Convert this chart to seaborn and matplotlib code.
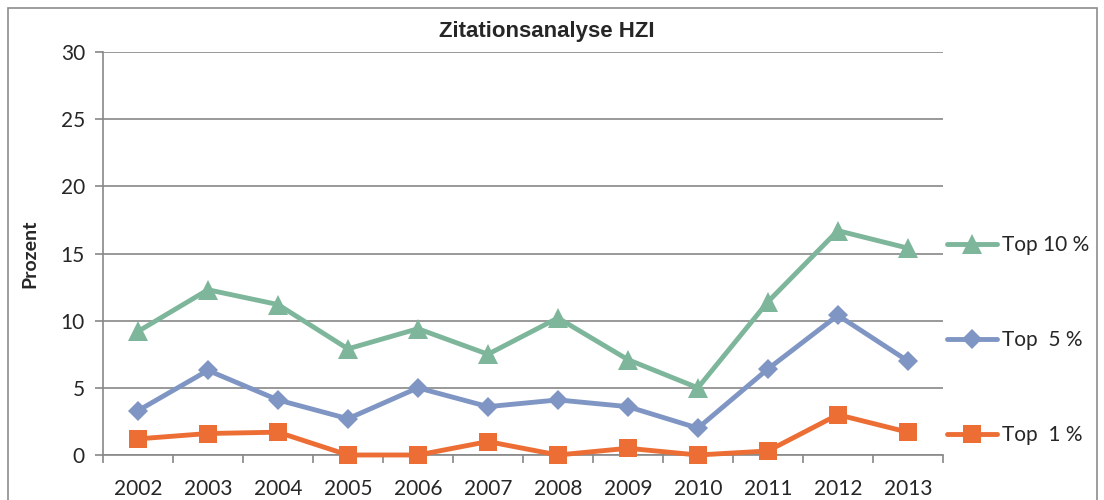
import numpy as np
import pandas as pd
import matplotlib
matplotlib.use("Agg")
import matplotlib.pyplot as plt
import seaborn as sns
from matplotlib.patches import Rectangle
from matplotlib.ticker import MultipleLocator, FixedLocator

# Data
years = ["2002", "2003", "2004", "2005", "2006", "2007",
         "2008", "2009", "2010", "2011", "2012", "2013"]
top10 = [9.2, 12.3, 11.2, 7.9, 9.4, 7.5, 10.2, 7.1, 5.0, 11.4, 16.7, 15.4]
top5 = [3.3, 6.3, 4.1, 2.7, 5.0, 3.6, 4.1, 3.6, 2.0, 6.4, 10.4, 7.0]
top1 = [1.2, 1.6, 1.7, 0.0, 0.0, 1.0, 0.0, 0.5, 0.0, 0.3, 3.0, 1.7]
series_names = ["Top 10 %", "Top  5 %", "Top  1 %"]

colors = {"Top 10 %": "#7db69b", "Top  5 %": "#7f95c3", "Top  1 %": "#ec6e35"}
markers = {"Top 10 %": "^", "Top  5 %": "D", "Top  1 %": "s"}
marker_sizes = {"Top 10 %": 15, "Top  5 %": 10, "Top  1 %": 13}

df = pd.DataFrame({
    "Jahr": years * 3,
    "x": list(range(len(years))) * 3,
    "Prozent": top10 + top5 + top1,
    "Serie": [series_names[0]] * 12 + [series_names[1]] * 12 + [series_names[2]] * 12,
})

sns.set_style("white")
plt.rcParams["font.family"] = ["Lato", "DejaVu Sans"]

fig = plt.figure(figsize=(11.04, 5.0), dpi=100)
ax = fig.add_axes([0.0933, 0.09, 0.7607, 0.806])

sns.lineplot(data=df, x="x", y="Prozent", hue="Serie", style="Serie",
             hue_order=series_names, style_order=series_names,
             palette=colors, markers=markers, dashes=False, linewidth=3.5,
             markeredgewidth=0, ax=ax, clip_on=False, zorder=3)

for line, name in zip(ax.lines[:3], series_names):
    line.set_markersize(marker_sizes[name])

grid_col = "#888888"
ax.set_xlim(-0.5, len(years) - 0.5)
ax.set_ylim(0, 30)
ax.yaxis.set_major_locator(MultipleLocator(5))
ax.grid(axis="y", color=grid_col, linewidth=1.2)
ax.set_axisbelow(True)

ax.set_xticks(range(len(years)))
ax.set_xticklabels(years)
ax.xaxis.set_minor_locator(FixedLocator(np.arange(-0.5, len(years), 1.0)))
ax.tick_params(axis="x", which="major", length=0, labelsize=15, pad=17)
ax.tick_params(axis="x", which="minor", length=6, color=grid_col, width=1.2, direction="out")
ax.tick_params(axis="y", length=6, color=grid_col, width=1.2, labelsize=15, direction="out", pad=7)
ax.tick_params(bottom=True, left=True, which="both")

for s in ["top", "right"]:
    ax.spines[s].set_visible(False)
for s in ["left", "bottom"]:
    ax.spines[s].set_color(grid_col)
    ax.spines[s].set_linewidth(1.2)

ax.set_xlabel("")
ax.set_ylabel("Prozent", fontsize=14, fontweight="bold", labelpad=16)
fig.text(0.495, 0.938, "Zitationsanalyse HZI", ha="center", va="center",
         fontsize=16, fontweight="bold", family="Liberation Sans")

handles, labels = ax.get_legend_handles_labels()
for h, name in zip(handles, labels):
    h.set_markersize(marker_sizes[name])
    h.set_linewidth(3.5)
leg = ax.legend(handles, labels, loc="center left", bbox_to_anchor=(1.005, 0.285),
                frameon=False, fontsize=15, labelspacing=3.6, handlelength=2.4,
                handletextpad=0.25, borderaxespad=0, borderpad=0)

# outer chart border
fig.patches.append(Rectangle((8 / 1104, -0.05), 1089 / 1104, 1.034,
                             transform=fig.transFigure, fill=False,
                             edgecolor="#8c8c8c", linewidth=1.2))

fig.savefig("out.png", dpi=100)
